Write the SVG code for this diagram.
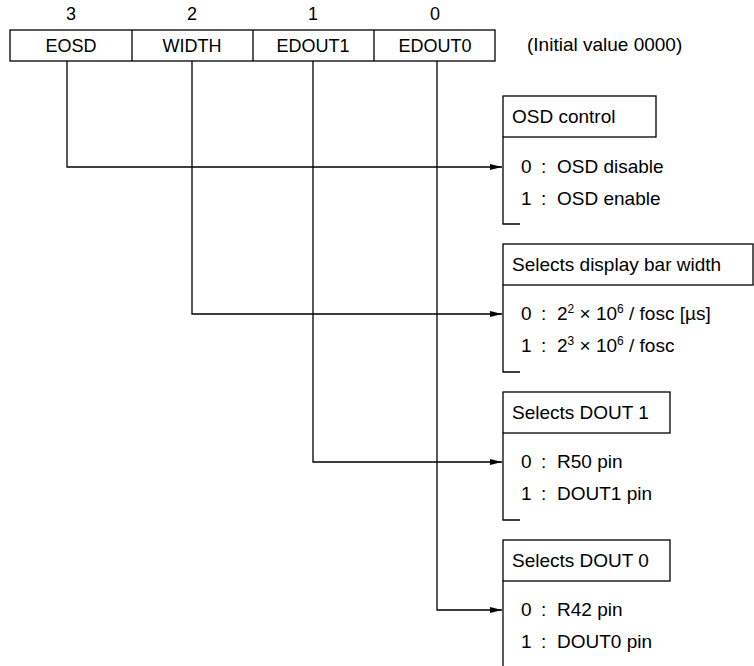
<svg xmlns="http://www.w3.org/2000/svg" width="754" height="666" viewBox="0 0 754 666">
<style>
.t{font-family:"Liberation Sans",Arial,sans-serif;font-size:18px;fill:#000}
.r{font-size:19px}
.c{text-anchor:middle}
.ln{stroke:#000;stroke-width:1.3;fill:none}
.sup{font-size:12px}
</style>
<defs>
<marker id="arr" viewBox="0 0 12 6" refX="12" refY="3" markerWidth="12" markerHeight="6" markerUnits="userSpaceOnUse" orient="auto"><path d="M0,0 L12,3 L0,6 z" fill="#000"/></marker>
</defs>
<rect width="754" height="666" fill="#fff"/>
<g id="register">
<text class="t c" x="71" y="20">3</text>
<text class="t c" x="192" y="20">2</text>
<text class="t c" x="313" y="20">1</text>
<text class="t c" x="435" y="20">0</text>
<rect class="ln" x="10" y="30" width="485" height="31"/>
<line class="ln" x1="132" y1="30" x2="132" y2="61"/>
<line class="ln" x1="253" y1="30" x2="253" y2="61"/>
<line class="ln" x1="374" y1="30" x2="374" y2="61"/>
<text class="t c" x="71" y="52">EOSD</text>
<text class="t c" x="192" y="52">WIDTH</text>
<text class="t c" x="313" y="52">EDOUT1</text>
<text class="t c" x="435" y="52">EDOUT0</text>
<text class="t r" x="527" y="51">(Initial value 0000)</text>
</g>
<g id="connectors">
<path class="ln" d="M67,61 V167 H502" marker-end="url(#arr)"/>
<path class="ln" d="M192,61 V314 H502" marker-end="url(#arr)"/>
<path class="ln" d="M313,61 V462 H502" marker-end="url(#arr)"/>
<path class="ln" d="M437,61 V610 H502" marker-end="url(#arr)"/>
</g>
<g id="osd-control">
<rect class="ln" x="503" y="96" width="153" height="41"/>
<path class="ln" d="M503,137 V224 H520"/>
<text class="t r" x="512" y="123">OSD control</text>
<text class="t r" x="521" y="173">0</text><text class="t r" x="541" y="173">:</text><text class="t r" x="557" y="173">OSD disable</text>
<text class="t r" x="521" y="205">1</text><text class="t r" x="541" y="205">:</text><text class="t r" x="557" y="205">OSD enable</text>
</g>
<g id="bar-width">
<rect class="ln" x="503" y="244" width="250" height="41"/>
<path class="ln" d="M503,285 V372 H520"/>
<text class="t r" x="512" y="271">Selects display bar width</text>
<text class="t r" x="521" y="320">0</text><text class="t r" x="541" y="320">:</text><text class="t r" x="557" y="320">2<tspan class="sup" dy="-7">2</tspan><tspan dy="7"> × 10</tspan><tspan class="sup" dy="-7">6</tspan><tspan dy="7"> / fosc  [µs]</tspan></text>
<text class="t r" x="521" y="352">1</text><text class="t r" x="541" y="352">:</text><text class="t r" x="557" y="352">2<tspan class="sup" dy="-7">3</tspan><tspan dy="7"> × 10</tspan><tspan class="sup" dy="-7">6</tspan><tspan dy="7"> / fosc</tspan></text>
</g>
<g id="dout1">
<rect class="ln" x="503" y="392" width="167" height="41"/>
<path class="ln" d="M503,433 V520 H520"/>
<text class="t r" x="512" y="419">Selects DOUT 1</text>
<text class="t r" x="521" y="468">0</text><text class="t r" x="541" y="468">:</text><text class="t r" x="557" y="468">R50 pin</text>
<text class="t r" x="521" y="500">1</text><text class="t r" x="541" y="500">:</text><text class="t r" x="557" y="500">DOUT1 pin</text>
</g>
<g id="dout0">
<rect class="ln" x="503" y="540" width="167" height="41"/>
<path class="ln" d="M503,581 V666"/>
<text class="t r" x="512" y="567">Selects DOUT 0</text>
<text class="t r" x="521" y="616">0</text><text class="t r" x="541" y="616">:</text><text class="t r" x="557" y="616">R42 pin</text>
<text class="t r" x="521" y="648">1</text><text class="t r" x="541" y="648">:</text><text class="t r" x="557" y="648">DOUT0 pin</text>
</g>
</svg>
